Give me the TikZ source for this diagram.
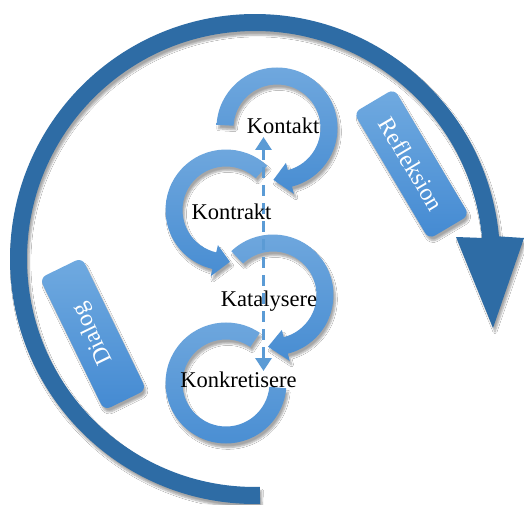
\documentclass[tikz,border=0pt]{standalone}
\usepackage{fontspec}
\setmainfont{Liberation Serif}
\usetikzlibrary{calc,arrows.meta,shadows.blur}
\definecolor{bigblue}{RGB}{46,108,165}
\definecolor{ringtop}{RGB}{112,168,222}
\definecolor{ringbot}{RGB}{72,141,210}
\definecolor{dashblue}{RGB}{91,155,213}
\definecolor{boxlight}{RGB}{112,170,224}
\definecolor{boxdark}{RGB}{68,138,210}
\tikzset{
  bigarrow/.style={fill=bigblue, draw=none,
    blur shadow={shadow xshift=2pt,shadow yshift=-4pt,shadow opacity=35,shadow blur steps=6}},
  ringshape/.style={top color=ringtop, bottom color=ringbot, draw=none,
    blur shadow={shadow xshift=2pt,shadow yshift=-4pt,shadow opacity=35,shadow blur steps=6}},
  lbl/.style={font=\fontsize{22.5}{26}\selectfont, text=black, inner sep=0pt},
  boxlabel/.style={rounded corners=7pt, top color=boxlight, bottom color=boxdark,
    minimum width=147pt, minimum height=47pt, text=white, inner sep=0pt,
    font=\fontsize{24}{28}\selectfont,
    blur shadow={shadow xshift=2pt,shadow yshift=-4pt,shadow opacity=35,shadow blur steps=6}},
  dasharrow/.style={draw=dashblue, line width=3pt, dash pattern=on 11pt off 7pt,
    {Triangle[width=16pt,length=13pt]}-{Triangle[width=16pt,length=13pt]}}
}
% ring with arrow head: center, tail angle, head base angle, tip angle
\newcommand\myringarrow[4]{%
  \path[ringshape] (#1) ++(#2:60.5pt) arc[start angle=#2, end angle=#3, radius=60.5pt]
    -- ($(#1)+(#3:68pt)$) -- ($(#1)+(#4:52pt)$) -- ($(#1)+(#3:36pt)$)
    -- ($(#1)+(#3:43.5pt)$) arc[start angle=#3, end angle=#2, radius=43.5pt] -- cycle;}
\begin{document}
\begin{tikzpicture}[x=1pt,y=1pt]
\fill[white] (0,0) rectangle (524,504);
\useasboundingbox (0,0) rectangle (524,504);
% big circular arrow
\coordinate (bc) at (255,245);
\coordinate (hl) at (456,267);
\coordinate (hr) at (524,266);
\coordinate (htip) at (493,176);
\path[bigarrow] (bc) ++(271.2:245pt) arc[start angle=271.2,end angle=5.3,radius=245pt]
  -- (hr) -- (htip) -- (hl) -- ($(bc)+(5.3:228pt)$)
  arc[start angle=5.3,end angle=271.2,radius=228pt] -- cycle;
% boxes
\node[boxlabel, rotate=-59.3] (refl) at (411.5,340) {Refleksion};
\node[boxlabel, rotate=116] (dialog) at (93,170) {Dialog};
% ring centers
\coordinate (c1) at (277,376);
\coordinate (c2) at (226,294);
\coordinate (c3) at (273,209);
\coordinate (c4) at (226,121);
% ring 4 (no head)
\path[ringshape] (c4) ++(56:60.5pt) arc[start angle=56,end angle=355,radius=60.5pt]
  -- ($(c4)+(355:43.5pt)$) arc[start angle=355,end angle=56,radius=43.5pt] -- cycle;
\myringarrow{c3}{133.6}{-75.8}{-95.5}
\myringarrow{c2}{47}{257}{274.3}
\myringarrow{c1}{177}{-75.6}{-94}
% dashed arrow
\coordinate (dtop) at (263.5,367);
\coordinate (dbot) at (263.5,133);
\draw[dasharrow] (dtop) -- (dbot);
% labels
\node[lbl, anchor=base] (kontakt) at (283,370) {Kontakt};
\node[lbl, anchor=base] (kontrakt) at (231.5,285) {Kontrakt};
\node[lbl, anchor=base] (katalysere) at (269,198) {Katalysere};
\node[lbl, anchor=base] (konkretisere) at (238.5,117) {Konkretisere};
\end{tikzpicture}
\end{document}
